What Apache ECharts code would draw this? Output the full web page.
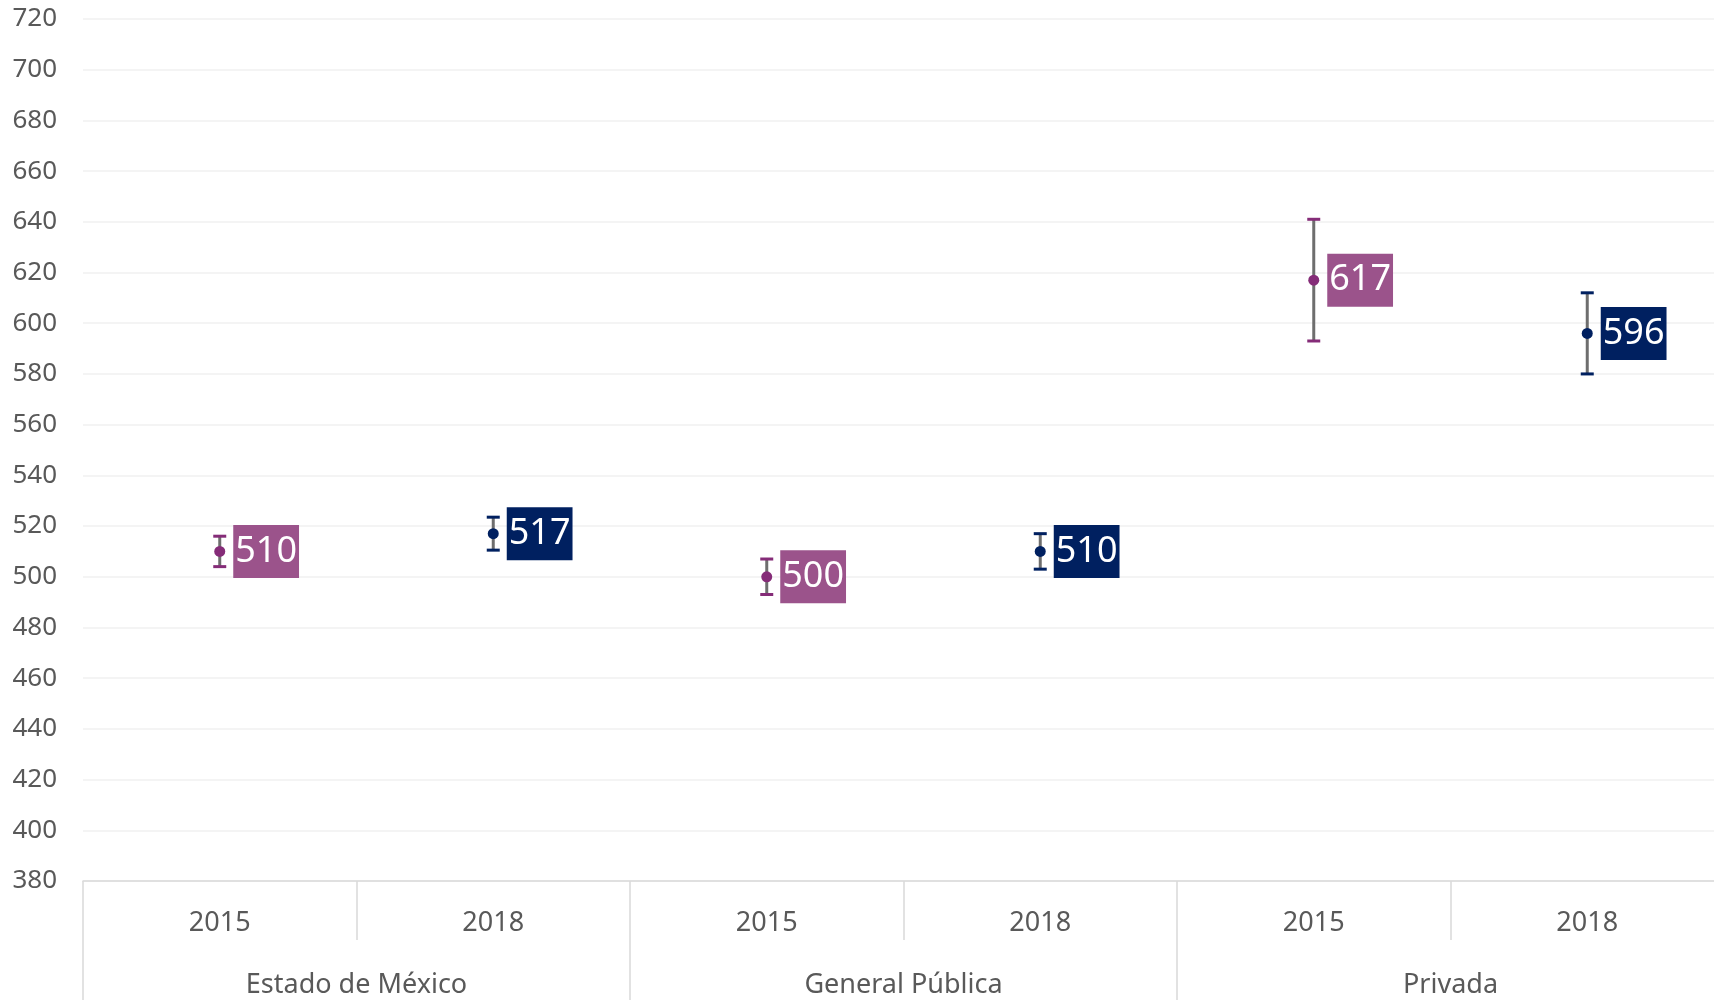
<!DOCTYPE html>
<html>
<head>
<meta charset="utf-8">
<script src="https://cdn.jsdelivr.net/npm/echarts@6/dist/echarts.min.js"></script>
<style>
  html, body { margin: 0; padding: 0; background: #fff; overflow: hidden; }
  /* a bit wider than the window: the original plot runs past its right edge */
  #chart { width: 1724px; height: 1000px; }
</style>
</head>
<body>
<div id="chart"></div>
<script>
const years = ['2015', '2018', '2015', '2018', '2015', '2018']
const groups = ['Estado de México', 'General Pública', 'Privada']
const values2015 = [510, 500, 617]
const errors2015 = [6, 7, 24]
const values2018 = [517, 510, 596]
const errors2018 = [6.5, 7, 16]

const purple = '#852C78'
const purpleLabel = '#9B538B'
const navy = '#002060'

// category index: 2015 -> 0,2,4 ; 2018 -> 1,3,5
const points = (vals, offset) => vals.map((v, i) => [i * 2 + offset, v])
const bars = (vals, errs, offset) => vals.map((v, i) => [i * 2 + offset, v, v - errs[i], v + errs[i]])

const errorBar = (color) => function (params, api) {
  const x = api.value(0)
  const low = api.coord([x, api.value(2)])
  const high = api.coord([x, api.value(3)])
  const half = 6.5
  return {
    type: 'group',
    children: [
      {
        type: 'line',
        shape: { x1: low[0], y1: low[1], x2: high[0], y2: high[1] },
        style: { stroke: '#6E6E6E', lineWidth: 3 }
      },
      {
        type: 'line',
        shape: { x1: high[0] - half, y1: high[1], x2: high[0] + half, y2: high[1] },
        style: { stroke: color, lineWidth: 3 }
      },
      {
        type: 'line',
        shape: { x1: low[0] - half, y1: low[1], x2: low[0] + half, y2: low[1] },
        style: { stroke: color, lineWidth: 3 }
      }
    ]
  }
}

const valueLabel = (bg) => ({
  show: true,
  position: 'right',
  distance: 8,
  formatter: p => p.value[1],
  color: '#fff',
  fontSize: 36,
  fontFamily: 'Noto Sans',
  backgroundColor: bg,
  padding: [4, 2, 4, 2],
  lineHeight: 45
})

const chart = echarts.init(document.getElementById('chart'))

chart.setOption({
  animation: false,
  textStyle: { fontFamily: 'Noto Sans' },
  grid: { left: 83, right: 0, top: 19, bottom: 119 },
  xAxis: [
    {
      type: 'category',
      data: years,
      axisLine: { lineStyle: { color: '#D9D9D9', width: 1.5 } },
      axisTick: { show: true, interval: 0, length: 59, lineStyle: { color: '#D9D9D9', width: 1.5 } },
      axisLabel: { color: '#595959', fontSize: 27, margin: 29, interval: 0 },
      splitLine: { show: false }
    },
    {
      type: 'category',
      data: groups,
      position: 'bottom',
      axisLine: { show: false },
      axisTick: { show: true, interval: 0, length: 125, lineStyle: { color: '#D9D9D9', width: 1.5 } },
      axisLabel: { color: '#595959', fontSize: 27, margin: 91, interval: 0 },
      splitLine: { show: false }
    }
  ],
  yAxis: {
    type: 'value',
    min: 380,
    max: 720,
    interval: 20,
    axisLine: { show: false },
    axisTick: { show: false },
    axisLabel: { color: '#595959', fontSize: 26, margin: 26 },
    splitLine: { lineStyle: { color: '#F0F0F0', width: 1.5 } }
  },
  series: [
    {
      type: 'custom',
      renderItem: errorBar(purple),
      data: bars(values2015, errors2015, 0),
      encode: { x: 0, y: [2, 3] },
      z: 2
    },
    {
      type: 'custom',
      renderItem: errorBar(navy),
      data: bars(values2018, errors2018, 1),
      encode: { x: 0, y: [2, 3] },
      z: 2
    },
    {
      type: 'scatter',
      data: points(values2015, 0),
      symbolSize: 11,
      itemStyle: { color: purple, opacity: 1 },
      label: valueLabel(purpleLabel),
      z: 3
    },
    {
      type: 'scatter',
      data: points(values2018, 1),
      symbolSize: 11,
      itemStyle: { color: navy, opacity: 1 },
      label: valueLabel(navy),
      z: 3
    }
  ]
})
</script>
</body>
</html>
